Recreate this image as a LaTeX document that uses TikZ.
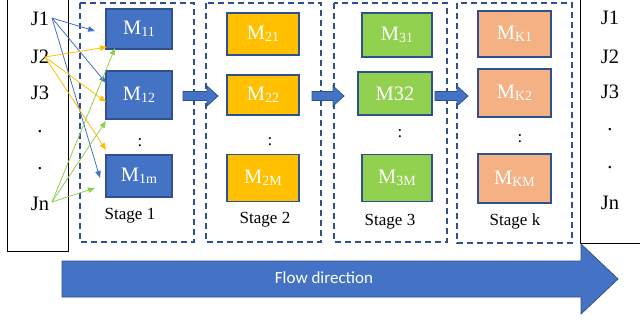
\documentclass[tikz,border=0pt]{standalone}
\usepackage{fontspec}
\setmainfont{Liberation Serif}
\newfontfamily\flowfont{Carlito}
\usetikzlibrary{arrows.meta}
\definecolor{mblue}{HTML}{4472C4}
\definecolor{dblue}{HTML}{2F528F}
\definecolor{mgold}{HTML}{FFC000}
\definecolor{mgreen}{HTML}{92D050}
\definecolor{msalmon}{HTML}{F4B183}
\newcommand{\msb}[1]{\raisebox{-0.22ex}{\fontsize{14}{14}\selectfont #1}}
\tikzset{
  mach/.style={draw=dblue, line width=1.6pt, text=white, inner sep=0pt,
    font=\fontsize{20.5}{22}\selectfont},
  stagebox/.style={draw=dblue, line width=1.7pt, dash pattern=on 6pt off 4pt},
  jlab/.style={font=\fontsize{20.5}{22}\selectfont, inner sep=0pt},
  slab/.style={font=\fontsize{17}{19}\selectfont, inner sep=0pt},
  conn/.style={line width=0.8pt, -{Triangle[length=7pt,width=5.5pt]}},
  blockarrow/.style={fill=mblue, draw=dblue, line width=0.8pt}
}
\begin{document}
\begin{tikzpicture}[x=1pt,y=-1pt]
\clip (0,0) rectangle (640,322);
\fill[white] (0,0) rectangle (640,322);
% side boxes
\draw[line width=0.9pt] (7,-5) rectangle (68,251);
\draw[line width=0.9pt] (580,-5) rectangle (660,243);
% stage boxes
\draw[stagebox] (80,3) rectangle (194,242);
\draw[stagebox] (206,3) rectangle (321,242);
\draw[stagebox] (334,3) rectangle (447,242);
\draw[stagebox] (457,3) rectangle (572,243);
% flow arrow
\draw[blockarrow] (62,261) -- (581,261) -- (581,244) -- (618,279) -- (581,314) -- (581,297) -- (62,297) -- cycle;
\node[text=white, font=\flowfont\fontsize{17}{19}\selectfont] (flow) at (324,278) {Flow direction};
% stage block arrows
\draw[blockarrow] (183,91.5) -- (207,91.5) -- (207,86) -- (218,96) -- (207,106) -- (207,100.5) -- (183,100.5) -- cycle;
\draw[blockarrow] (312,91.5) -- (333,91.5) -- (333,86) -- (344,96) -- (333,106) -- (333,100.5) -- (312,100.5) -- cycle;
\draw[blockarrow] (435,91.5) -- (457,91.5) -- (457,86) -- (468,96) -- (457,106) -- (457,100.5) -- (435,100.5) -- cycle;
% left labels
\node[jlab] (J1) at (40,19) {J1};
\node[jlab] (J2) at (40,57) {J2};
\node[jlab] (J3) at (40,93) {J3};
\node[jlab] (d1) at (40,132) {.};
\node[jlab] (d2) at (40,169) {.};
\node[jlab] (Jn) at (40,204) {Jn};
% right labels
\node[jlab] (R1) at (610,18) {J1};
\node[jlab] (R2) at (610,57) {J2};
\node[jlab] (R3) at (610,92) {J3};
\node[jlab] (r1) at (610,130) {.};
\node[jlab] (r2) at (610,168) {.};
\node[jlab] (Rn) at (610,203) {Jn};
% stage 1
\node[mach, fill=mblue, minimum width=66pt, minimum height=40pt] (M11) at (139,29) {M\msb{11}};
\node[mach, fill=mblue, minimum width=66pt, minimum height=48pt] (M12) at (139,95) {M\msb{12}};
\node[mach, fill=mblue, minimum width=66pt, minimum height=42pt] (M1m) at (139,176) {M\msb{1m}};
\node[slab] (c1) at (140,143) {:};
\node[slab] (S1) at (130,216) {Stage 1};
% stage 2
\node[mach, fill=mgold, minimum width=72pt, minimum height=42pt] (M21) at (263,34) {M\msb{21}};
\node[mach, fill=mgold, minimum width=72pt, minimum height=40pt] (M22) at (263,95) {M\msb{22}};
\node[mach, fill=mgold, minimum width=72pt, minimum height=47pt] (M2M) at (263,178) {M\msb{2M}};
\node[slab] (c2) at (270,142) {:};
\node[slab] (S2) at (265,220) {Stage 2};
% stage 3
\node[mach, fill=mgreen, minimum width=70pt, minimum height=44pt] (M31) at (397,35) {M\msb{31}};
\node[mach, fill=mgreen, minimum width=74pt, minimum height=43pt] (M32) at (395,93.5) {M32};
\node[mach, fill=mgreen, minimum width=70pt, minimum height=47pt] (M3M) at (397,178) {M\msb{3M}};
\node[slab] (c3) at (400,134) {:};
\node[slab] (S3) at (390,222) {Stage 3};
% stage k
\node[mach, fill=msalmon, minimum width=73pt, minimum height=46pt] (MK1) at (514.5,34) {M\msb{K1}};
\node[mach, fill=msalmon, minimum width=73pt, minimum height=48pt] (MK2) at (514.5,93) {M\msb{K2}};
\node[mach, fill=msalmon, minimum width=73pt, minimum height=49pt] (MKM) at (514.5,178.5) {M\msb{KM}};
\node[slab] (ck) at (520,139) {:};
\node[slab] (Sk) at (515,221) {Stage k};
% connector end points
\coordinate (o1) at (52,18);
\coordinate (o2) at (45,57);
\coordinate (on) at (52,202);
\coordinate (b1) at (95,31);
\coordinate (b2) at (106,83);
\coordinate (b3) at (100,178);
\coordinate (y1) at (107,47);
\coordinate (y2) at (106,102);
\coordinate (y3) at (106,150);
\coordinate (g1) at (115,48);
\coordinate (g2) at (106,121);
\coordinate (g3) at (95,188);
\draw[conn, mblue] (o1) -- (b1);
\draw[conn, mblue] (o1) -- (b2);
\draw[conn, mblue] (o1) -- (b3);
\draw[conn, mgold] (o2) -- (y1);
\draw[conn, mgold] (o2) -- (y2);
\draw[conn, mgold] (o2) -- (y3);
\draw[conn, mgreen] (on) -- (g1);
\draw[conn, mgreen] (on) -- (g2);
\draw[conn, mgreen] (on) -- (g3);
\end{tikzpicture}
\end{document}
